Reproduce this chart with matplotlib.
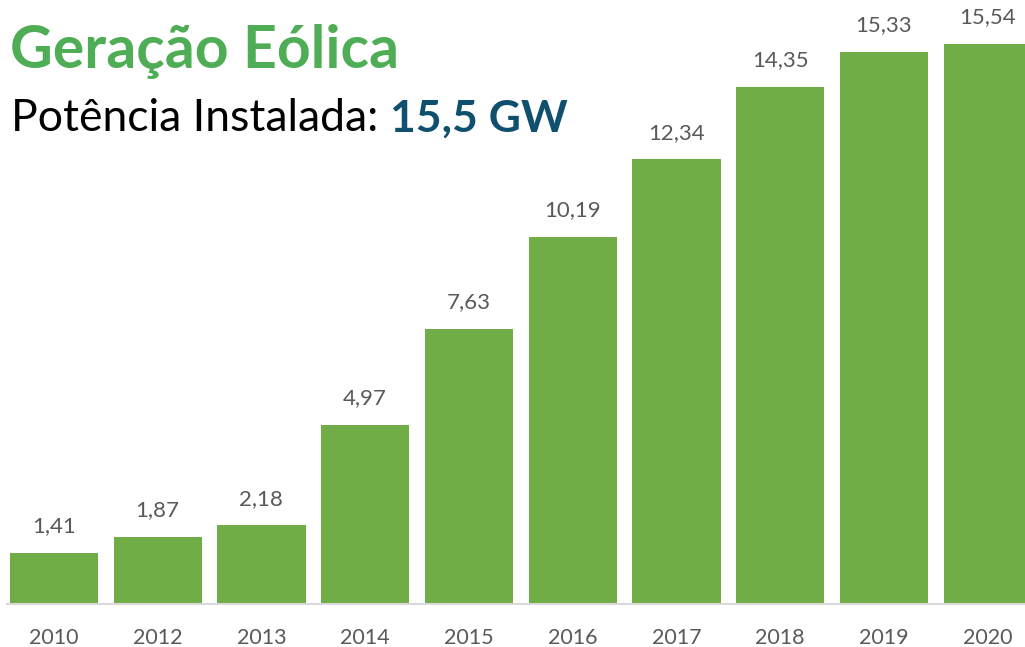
import matplotlib
matplotlib.use("Agg")
import matplotlib.pyplot as plt

anos = ["2010", "2012", "2013", "2014", "2015", "2016", "2017", "2018", "2019", "2020"]
potencia = [1.41, 1.87, 2.18, 4.97, 7.63, 10.19, 12.34, 14.35, 15.33, 15.54]
rotulos = ["1,41", "1,87", "2,18", "4,97", "7,63", "10,19", "12,34", "14,35", "15,33", "15,54"]

VERDE_BARRA = "#70AD47"
VERDE_TITULO = "#4EAD55"
AZUL = "#10506F"
CINZA = "#595959"

plt.rcParams["font.family"] = ["Lato", "DejaVu Sans"]

fig = plt.figure(figsize=(10.25, 6.47), dpi=100)
ax = fig.add_axes([0, 43 / 647, 1, 604 / 647])

x = list(range(len(anos)))
ax.bar(x, potencia, width=0.85, color=VERDE_BARRA, zorder=2)
for xi, v, r in zip(x, potencia, rotulos):
    ax.annotate(r, (xi, v), xytext=(0, 12), textcoords="offset points",
                ha="center", va="bottom", fontsize=16, color=CINZA)

ax.set_xlim(-0.52, 9.36)
ax.set_ylim(0, 604 / 36.04)
ax.set_xticks(x)
ax.set_xticklabels(anos, fontsize=15.5, color=CINZA)
ax.tick_params(axis="x", length=0, pad=17)
ax.set_yticks([])
for lado in ["top", "right", "left"]:
    ax.spines[lado].set_visible(False)
ax.spines["bottom"].set_color("#D9D9D9")
ax.spines["bottom"].set_linewidth(1.5)
ax.spines["bottom"].set_bounds(-0.45, 9.36)
ax.patch.set_alpha(0)

fig.text(0.01, 1 - 68 / 647, "Geração Eólica", fontsize=42.5, fontweight="bold",
         color=VERDE_TITULO, ha="left", va="baseline")
t1 = fig.text(0.011, 1 - 131 / 647, "Potência Instalada: ", fontsize=32,
              color="black", ha="left", va="baseline")
ax.annotate("15,5 GW", xy=(1, 0), xycoords=t1, fontsize=32, fontweight="bold",
            color=AZUL, ha="left", va="bottom", annotation_clip=False)

fig.savefig("out.png", dpi=100)
